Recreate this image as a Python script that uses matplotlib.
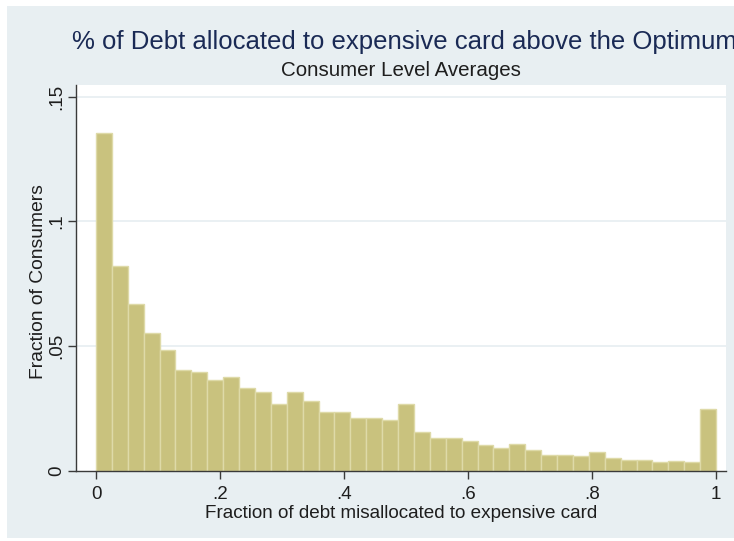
import numpy as np
import matplotlib
matplotlib.use("Agg")
import matplotlib.pyplot as plt
from matplotlib.patches import Rectangle

plt.rcParams['font.family'] = ['Liberation Sans', 'DejaVu Sans']

# Fraction of consumers in each of 39 equal-width bins on [0, 1]
fractions = [
    0.1353, 0.0822, 0.0670, 0.0554, 0.0486, 0.0403, 0.0398, 0.0366, 0.0378, 0.0333,
    0.0316, 0.0270, 0.0316, 0.0282, 0.0236, 0.0236, 0.0214, 0.0212, 0.0204, 0.0270,
    0.0156, 0.0134, 0.0131, 0.0120, 0.0103, 0.0093, 0.0108, 0.0085, 0.0064, 0.0064,
    0.0059, 0.0077, 0.0053, 0.0045, 0.0046, 0.0035, 0.0040, 0.0036, 0.0247,
]
x_range = (0.0, 1.0)
x_ticks = [0, 0.2, 0.4, 0.6, 0.8, 1.0]
x_ticklabels = ["0", ".2", ".4", ".6", ".8", "1"]
y_ticks = [0, 0.05, 0.10, 0.15]
y_ticklabels = ["0", ".05", ".1", ".15"]

title = "% of Debt allocated to expensive card above the Optimum"
subtitle = "Consumer Level Averages"
xlabel = "Fraction of debt misallocated to expensive card"
ylabel = "Fraction of Consumers"

W, H = 734, 541
bg = "#e8eff2"
grid_c = "#e6eef1"
bar_face = "#c9c27e"
bar_edge = "#dedaa8"
axis_c = "#3a3a3a"
text_c = "#1e1e1e"
title_c = "#1a2a55"

fig = plt.figure(figsize=(W / 100, H / 100), dpi=100, facecolor="white")
fig.patches.append(Rectangle((7 / W, 1 - 538 / H), 1 - 7 / W, (538 - 6) / H,
                             transform=fig.transFigure, facecolor=bg,
                             edgecolor="none", zorder=-10))

px = lambda x: x / W
py = lambda y: 1 - y / H

ax = fig.add_axes([px(76), py(471), px(726) - px(76), py(85) - py(471)])
ax.set_zorder(1)
ax.set_facecolor("white")

nb = len(fractions)
edges = np.linspace(x_range[0], x_range[1], nb + 1)
ax.bar(edges[:-1], fractions, width=np.diff(edges), align="edge",
       color=bar_face, edgecolor=bar_edge, linewidth=1.0, zorder=2)

ax.set_xlim(-20 / 620, 1 + 10 / 620)
ax.set_ylim(0, 0.05 * 386 / 124.8)

for yv in y_ticks[1:]:
    ax.axhline(yv, color=grid_c, lw=1.2, zorder=1)

for s in ("top", "right"):
    ax.spines[s].set_visible(False)
for s in ("left", "bottom"):
    ax.spines[s].set_color(axis_c)
    ax.spines[s].set_linewidth(1.0)
    ax.spines[s].set_zorder(3)

ax.set_xticks(x_ticks)
ax.set_xticklabels(x_ticklabels)
ax.set_yticks(y_ticks)
ax.set_yticklabels(y_ticklabels, rotation=90, va="center")
ax.tick_params(axis="both", direction="out", length=6, width=1, color=axis_c,
               labelsize=13.5, labelcolor=text_c)
ax.tick_params(axis="x", pad=5)
ax.tick_params(axis="y", pad=1.5)

fig.text(px(404), py(42), title, ha="center", va="center", fontsize=18.5, color=title_c)
fig.text(px(401), py(71), subtitle, ha="center", va="center", fontsize=14.8, color=text_c)
fig.text(px(401), py(513), xlabel, ha="center", va="center", fontsize=13.6, color=text_c)
fig.text(px(39), py(282), ylabel, ha="center", va="center", rotation=90,
         fontsize=13.9, color=text_c)

fig.savefig("out.png", dpi=100, facecolor=fig.get_facecolor())
